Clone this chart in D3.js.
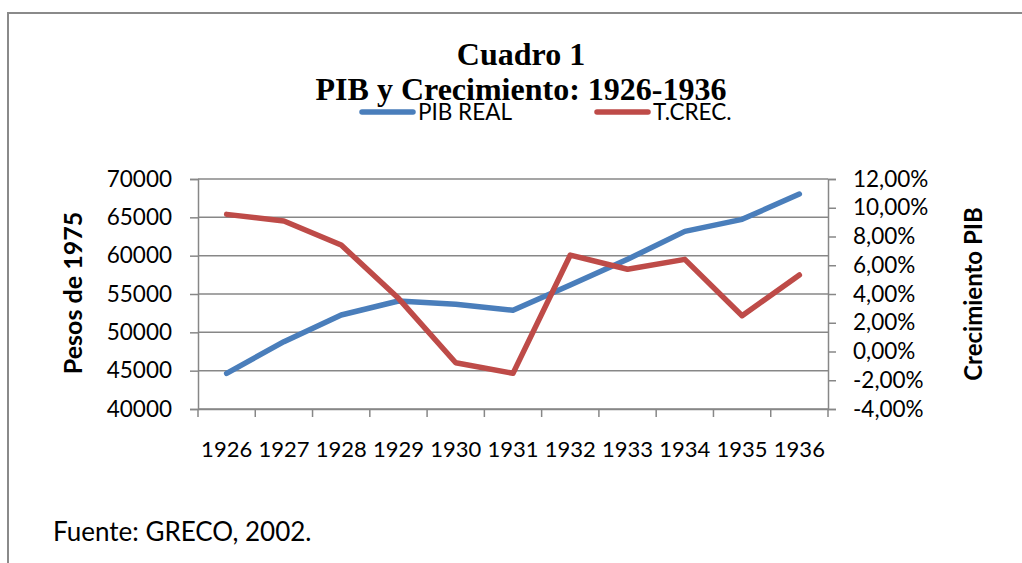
<!DOCTYPE html>
<html>
<head>
<meta charset="utf-8">
<script src="https://cdn.jsdelivr.net/npm/d3@7"></script>
<style>
  html, body { margin: 0; padding: 0; background: #fff; }
  svg { display: block; }
</style>
</head>
<body>
<svg id="chart" width="1022" height="563"></svg>
<script>
// ---- data ----
const years = ["1926","1927","1928","1929","1930","1931","1932","1933","1934","1935","1936"];
const pibReal = [44650, 48780, 52260, 54090, 53650, 52870, 56170, 59530, 63170, 64740, 68040];
const tCrec = [9.54, 9.08, 7.41, 3.70, -0.78, -1.52, 6.71, 5.72, 6.41, 2.49, 5.32];
const leftTicks = [40000, 45000, 50000, 55000, 60000, 65000, 70000];
const rightTicks = [-4, -2, 0, 2, 4, 6, 8, 10, 12];
const titleLines = ["Cuadro 1", "PIB y Crecimiento: 1926-1936"];
const seriesNames = ["PIB REAL", "T.CREC."];
const seriesColors = ["#4a7ebb", "#be4b48"];

const svg = d3.select("#chart");
const sans = "Lato, 'Open Sans', sans-serif";
const gridColor = "#878787";

// outer frame
svg.append("path")
  .attr("d", "M8,600 L8,13 L1030,13")
  .attr("fill", "none").attr("stroke", "#8a8a8a").attr("stroke-width", 2);

// plot area
const L = 198, R = 828, T = 179, B = 409;
const x = d3.scaleBand().domain(years).range([L, R]).padding(0);
const yL = d3.scaleLinear().domain([40000, 70000]).range([B, T]);
const yR = d3.scaleLinear().domain([-4, 12]).range([B, T]);
const cx = d => x(d) + x.bandwidth() / 2;

// gridlines
svg.append("g").selectAll("line").data(leftTicks).join("line")
  .attr("x1", L).attr("x2", R)
  .attr("y1", d => yL(d)).attr("y2", d => yL(d))
  .attr("stroke", gridColor).attr("stroke-width", 1.5);

// left axis
const gL = svg.append("g").attr("transform", `translate(${L},0)`)
  .call(d3.axisLeft(yL).tickValues(leftTicks).tickSize(8).tickPadding(18).tickFormat(d3.format("d")));
gL.select(".domain").attr("stroke", gridColor).attr("stroke-width", 1.5);
gL.selectAll(".tick line").attr("stroke", gridColor).attr("stroke-width", 1.5);
gL.selectAll(".tick text").attr("font-family", sans).attr("font-size", 22.5).attr("fill", "#000");

// right axis
const gR = svg.append("g").attr("transform", `translate(${R},0)`)
  .call(d3.axisRight(yR).tickValues(rightTicks).tickSize(8).tickPadding(17)
    .tickFormat(d => d.toFixed(2).replace(".", ",") + "%"));
gR.select(".domain").attr("stroke", gridColor).attr("stroke-width", 1.5);
gR.selectAll(".tick line").attr("stroke", gridColor).attr("stroke-width", 1.5);
gR.selectAll(".tick text").attr("font-family", sans).attr("font-size", 22.5).attr("fill", "#000");

// bottom axis
const gB = svg.append("g").attr("transform", `translate(0,${B})`)
  .call(d3.axisBottom(x).tickSize(0).tickPadding(32));
gB.select(".domain").attr("stroke", gridColor).attr("stroke-width", 1.5);
gB.selectAll(".tick text").attr("font-family", sans).attr("font-size", 22).attr("fill", "#000");
const bounds = years.map(d => x(d)).concat([R]);
gB.append("g").selectAll("line").data(bounds).join("line")
  .attr("x1", d => d).attr("x2", d => d).attr("y1", 0).attr("y2", 8)
  .attr("stroke", gridColor).attr("stroke-width", 1.5);

// lines
const lineL = d3.line().x((d, i) => cx(years[i])).y(d => yL(d));
const lineR = d3.line().x((d, i) => cx(years[i])).y(d => yR(d));
svg.append("path").datum(pibReal).attr("d", lineL)
  .attr("fill", "none").attr("stroke", seriesColors[0]).attr("stroke-width", 5.5)
  .attr("stroke-linejoin", "round").attr("stroke-linecap", "round");
svg.append("path").datum(tCrec).attr("d", lineR)
  .attr("fill", "none").attr("stroke", seriesColors[1]).attr("stroke-width", 5.5)
  .attr("stroke-linejoin", "round").attr("stroke-linecap", "round");

// axis titles
svg.append("text")
  .attr("transform", `translate(82,293) rotate(-90)`)
  .attr("text-anchor", "middle")
  .attr("font-family", sans).attr("font-weight", "bold").attr("font-size", 25)
  .text("Pesos de 1975");
svg.append("text")
  .attr("transform", `translate(982,294) rotate(-90)`)
  .attr("text-anchor", "middle")
  .attr("font-family", sans).attr("font-weight", "bold").attr("font-size", 24)
  .text("Crecimiento PIB");

// title
svg.append("text").attr("x", 521).attr("y", 65).attr("text-anchor", "middle")
  .attr("font-family", "'Liberation Serif', 'Times New Roman', serif").attr("font-weight", "bold")
  .attr("font-size", 32).text(titleLines[0]);
svg.append("text").attr("x", 521).attr("y", 100).attr("text-anchor", "middle")
  .attr("font-family", "'Liberation Serif', 'Times New Roman', serif").attr("font-weight", "bold")
  .attr("font-size", 32).text(titleLines[1]);

// legend
const legendX = [360, 595];
const lg = svg.append("g").selectAll("g").data(seriesNames).join("g")
  .attr("transform", (d, i) => `translate(${legendX[i]},112)`);
lg.append("line").attr("x1", 2).attr("x2", 53).attr("y1", 0).attr("y2", 0)
  .attr("stroke", (d, i) => seriesColors[i]).attr("stroke-width", 5.5).attr("stroke-linecap", "round");
lg.append("text").attr("x", 58).attr("y", 8)
  .attr("font-family", sans).attr("font-size", 22.5).text(d => d);

// source
svg.append("text").attr("x", 53).attr("y", 541)
  .attr("font-family", sans).attr("font-size", 26).text("Fuente: GRECO, 2002.");
</script>
</body>
</html>
